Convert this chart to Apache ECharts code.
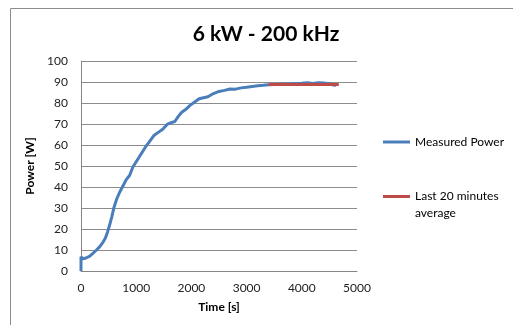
<!DOCTYPE html>
<html>
<head>
<meta charset="utf-8">
<script src="https://cdn.jsdelivr.net/npm/echarts@6/dist/echarts.min.js"></script>
<style>
  html, body { margin: 0; padding: 0; background: #fff; }
  #chart { width: 513px; height: 325px; }
</style>
</head>
<body>
<div id="chart"></div>
<script>
// Measured heating power over time
const timeSec = [0, 0, 40, 100, 160, 220, 280, 340, 400, 440, 480, 520, 560, 600, 650, 700, 760, 820, 880, 940,
  1000, 1060, 1120, 1180, 1250, 1320, 1400, 1480, 1560, 1620, 1700, 1760, 1820, 1900, 1980, 2060, 2140, 2220, 2300,
  2400, 2500, 2600, 2700, 2800, 2900, 3000, 3100, 3200, 3300, 3400, 3500, 3600, 3700, 3800, 3900, 4000, 4100, 4200,
  4300, 4400, 4500, 4560, 4620];
const powerW = [0, 6.8, 5.8, 6.3, 7.1, 8.5, 10, 11.6, 13.8, 15.6, 18.5, 22, 26, 30.5, 34.5, 37.5, 40.5, 43.5, 45.5, 49.5,
  52, 54.5, 57, 59.5, 62, 64.5, 66, 67.5, 69.8, 70.5, 71.2, 73.5, 75.5, 77, 79, 80.5, 82, 82.5, 83,
  84.5, 85.5, 86, 86.7, 86.6, 87.2, 87.5, 87.9, 88.2, 88.4, 88.7, 88.8, 88.9, 89.0, 89.1, 89.3, 89.4, 89.6, 89.3,
  89.6, 89.5, 89.2, 88.6, 88.5];

// Average over the last 20 minutes of the run
const avgTime = [3400, 4670];
const avgPower = [88.8, 88.8];

const xTicks = { min: 0, max: 5000, step: 1000 };
const yTicks = { min: 0, max: 100, step: 10 };

const measured = timeSec.map((t, i) => [t, powerW[i]]);
const average = avgTime.map((t, i) => [t, avgPower[i]]);

const font = 'Lato, "Open Sans", sans-serif';
const chart = echarts.init(document.getElementById('chart'), null, { renderer: 'canvas' });
chart.setOption({
  backgroundColor: '#fff',
  animation: false,
  title: {
    text: '6 kW - 200 kHz',
    left: 261, top: 19, textAlign: 'center',
    textStyle: { fontFamily: font, fontWeight: 'bold', fontSize: 21, color: '#000' }
  },
  graphic: [{
    type: 'rect', silent: true,
    shape: { x: 10.5, y: 8.5, width: 600, height: 400 },
    style: { fill: 'none', stroke: '#8c8c8c', lineWidth: 1 }
  }],
  legend: [{
    orient: 'vertical', left: 383, top: 136, padding: 0,
    icon: 'rect', itemWidth: 27, itemHeight: 3,
    data: ['Measured Power'],
    textStyle: { fontFamily: font, fontSize: 12, color: '#000' }
  }, {
    // leading blank line keeps the icon level with the first text line
    orient: 'vertical', left: 383, top: 171, padding: 0,
    icon: 'rect', itemWidth: 27, itemHeight: 3,
    data: ['Last 20 minutes average'],
    formatter: () => ' \nLast 20 minutes\naverage',
    textStyle: { fontFamily: font, fontSize: 12, color: '#000', lineHeight: 17 }
  }],
  grid: { left: 81, right: 156, top: 61, bottom: 54 },
  xAxis: {
    type: 'value', min: xTicks.min, max: xTicks.max, interval: xTicks.step,
    name: 'Time [s]', nameLocation: 'middle', nameGap: 30,
    nameTextStyle: { fontFamily: font, fontWeight: 'bold', fontSize: 12, color: '#000' },
    axisLine: { show: true, lineStyle: { color: '#868686', width: 1 } },
    axisTick: { show: false },
    splitLine: { show: false },
    axisLabel: { fontFamily: font, fontSize: 12, color: '#222', margin: 11, formatter: v => String(v) }
  },
  yAxis: {
    type: 'value', min: yTicks.min, max: yTicks.max, interval: yTicks.step,
    name: 'Power [W]', nameLocation: 'middle', nameGap: 38, nameRotate: 90,
    nameTextStyle: { fontFamily: font, fontWeight: 'bold', fontSize: 12, color: '#000' },
    axisLine: { show: true, lineStyle: { color: '#868686', width: 1 } },
    axisTick: { show: false },
    splitLine: { show: true, lineStyle: { color: '#8c8c8c', width: 1 } },
    axisLabel: { fontFamily: font, fontSize: 12, color: '#222', margin: 13, formatter: v => String(v) }
  },
  series: [{
    name: 'Measured Power', type: 'line', data: measured,
    showSymbol: false, symbol: 'none',
    lineStyle: { color: '#4a7ebb', width: 3 }, itemStyle: { color: '#4a7ebb' },
    z: 2
  }, {
    name: 'Last 20 minutes average', type: 'line', data: average,
    showSymbol: false, symbol: 'none',
    lineStyle: { color: '#be4b48', width: 3 }, itemStyle: { color: '#be4b48' },
    z: 3
  }]
});
</script>
</body>
</html>
